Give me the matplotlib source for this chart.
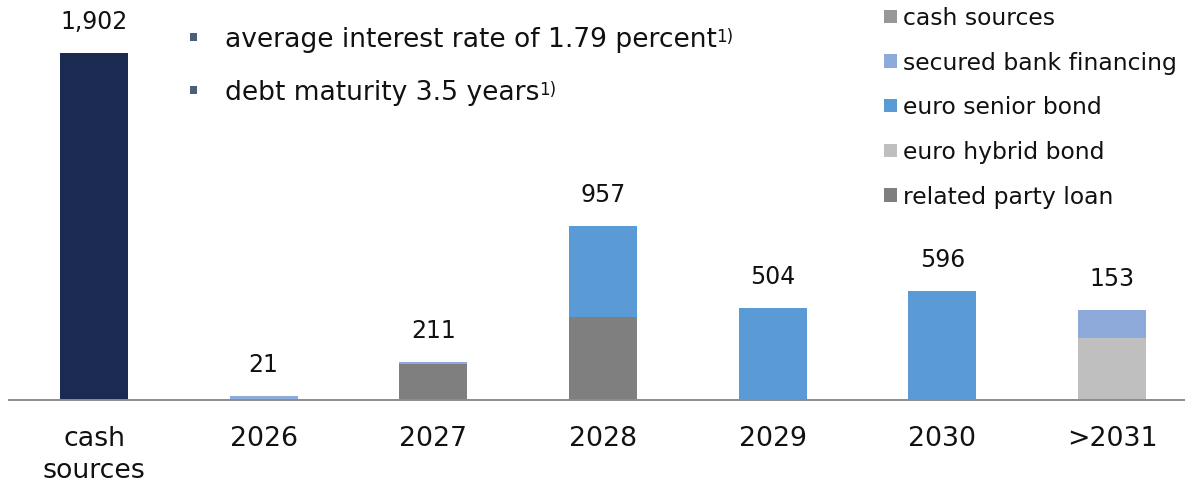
import matplotlib
matplotlib.use("Agg")
import matplotlib.pyplot as plt
from matplotlib.patches import Rectangle
import numpy as np

# ---- data (EUR million) ----
categories = ["cash\nsources", "2026", "2027", "2028", "2029", "2030", ">2031"]
cash_sources = [1902, 0, 0, 0, 0, 0, 0]
related_party_loan = [0, 0, 200, 457, 0, 0, 0]
euro_hybrid_bond = [0, 0, 0, 0, 0, 0, 340]
euro_senior_bond = [0, 0, 0, 500, 504, 596, 0]
secured_bank_financing = [0, 21, 11, 0, 0, 0, 153]

bullet_lines = ["average interest rate of 1.79 percent", "debt maturity 3.5 years"]
footnote_mark = "1)"

legend_labels = ["cash sources", "secured bank financing", "euro senior bond",
                 "euro hybrid bond", "related party loan"]

# ---- styling ----
NAVY = "#1B2A50"
C_CASH_KEY = "#979797"
C_SECURED = "#8EAADB"
C_SENIOR = "#5B9BD5"
C_HYBRID = "#BFBFBF"
C_RELATED = "#7F7F7F"
BULLET = "#4C5D7D"
TEXT = "#111111"

plt.rcParams["font.family"] = ["DejaVu Sans"]

W, H = 1185, 483
fig = plt.figure(figsize=(W / 100, H / 100), dpi=100)

def fx(px):
    return px / W

def fy(py):
    return 1 - py / H

# axes spans from the baseline (y=400 px) to the top edge
ax = fig.add_axes([fx(9), fy(400), fx(1185 - 9), 400 / H])
x = np.arange(len(categories))
width = 0.40

# stacks drawn bottom to top
series = [
    (cash_sources, NAVY),
    (related_party_loan, C_RELATED),
    (euro_hybrid_bond, C_HYBRID),
    (euro_senior_bond, C_SENIOR),
    (secured_bank_financing, C_SECURED),
]
bottom = np.zeros(len(categories))
for vals, col in series:
    v = np.asarray(vals, dtype=float)
    ax.bar(x, v, width, bottom=bottom, color=col, edgecolor="none", zorder=2)
    bottom += v

# value labels: debt total (the hybrid bond is shown without a figure)
debt_total = (np.asarray(cash_sources) + np.asarray(related_party_loan)
              + np.asarray(euro_senior_bond) + np.asarray(secured_bank_financing))
for xi, top, lab in zip(x, bottom, debt_total):
    ax.annotate(f"{lab:,}", (xi, top), xytext=(0, 17.3), textcoords="offset points",
                ha="center", va="baseline", fontsize=17, color=TEXT)

ax.set_xlim(-0.501, 6.43)
ax.set_ylim(0, 1902 * 400 / 346.7)
for s in ("left", "right", "top"):
    ax.spines[s].set_visible(False)
ax.spines["bottom"].set_color("#8C8C8C")
ax.spines["bottom"].set_linewidth(1.4)
ax.spines["bottom"].set_zorder(3)
ax.set_yticks([])
ax.set_xticks(x)
ax.set_xticklabels(categories, fontsize=19.3, color=TEXT, linespacing=1.3)
ax.tick_params(axis="x", length=0, pad=18.6)
ax.patch.set_alpha(0)

# legend keys and labels at the upper right
key_colors = [C_CASH_KEY, C_SECURED, C_SENIOR, C_HYBRID, C_RELATED]
for i, (lab, col) in enumerate(zip(legend_labels, key_colors)):
    cy = 16.3 + 44.7 * i
    fig.patches.append(Rectangle((fx(883.5), fy(cy + 6.7)), fx(13.4), 13.4 / H,
                                 transform=fig.transFigure, color=col, lw=0))
    fig.text(fx(903), fy(cy + 8.7), lab, fontsize=16.9, color=TEXT,
             ha="left", va="baseline")

# bullet notes with footnote marks
fig.canvas.draw()
renderer = fig.canvas.get_renderer()
for i, line in enumerate(bullet_lines):
    base = 47.3 + 53.0 * i
    fig.patches.append(Rectangle((fx(189.5), fy(base - 6.5)), fx(7.5), 7.5 / H,
                                 transform=fig.transFigure, color=BULLET, lw=0))
    t = fig.text(fx(225), fy(base), line, fontsize=19.1, color=TEXT,
                 ha="left", va="baseline")
    bb = t.get_window_extent(renderer)
    fig.text((bb.x1 - 0.5) / W, fy(base - 5.5), footnote_mark, fontsize=12,
             color=TEXT, ha="left", va="baseline")

fig.savefig("out.png", dpi=100, facecolor="white")
